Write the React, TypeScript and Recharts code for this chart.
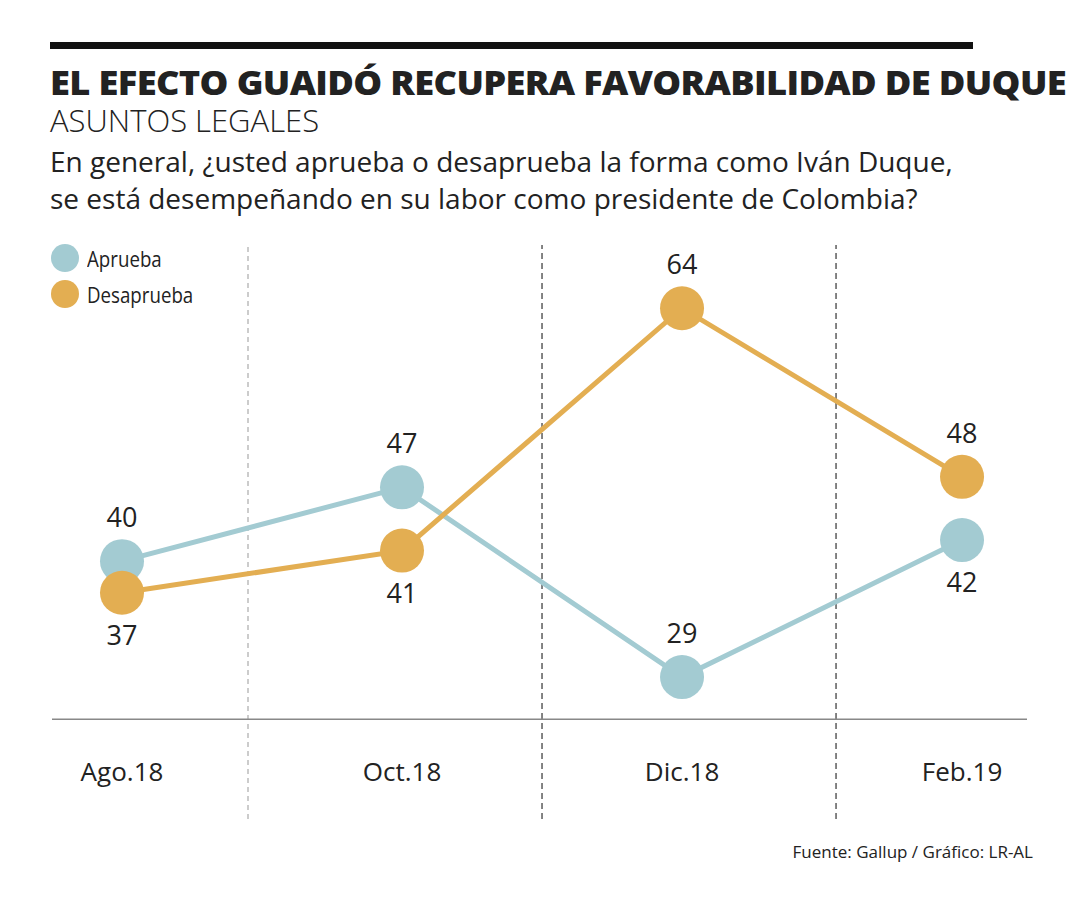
import { LineChart, Line, XAxis, YAxis, ReferenceLine, LabelList } from "recharts";

const months = ["Ago.18", "Oct.18", "Dic.18", "Feb.19"];
const aprueba = [40, 47, 29, 42];
const desaprueba = [37, 41, 64, 48];

const data = months.map((m, i) => ({ idx: i, month: m, aprueba: aprueba[i], desaprueba: desaprueba[i] }));

const TEAL = "#a3cbd2";
const ORANGE = "#e3ae52";
const FONT = "'Open Sans', sans-serif";

const dot = (color: string) => (props: any) => (
  <circle key={props.index} cx={props.cx} cy={props.cy} r={22} fill={color} />
);

const label = (pos: ("top" | "bottom")[]) => (props: any) => {
  const { x, y, value, index } = props;
  const up = pos[index] === "top";
  return (
    <text x={x} y={up ? y - 34 : y + 52} textAnchor="middle" fontSize={27} fill="#222" fontFamily={FONT}>
      {value}
    </text>
  );
};

const tick = (props: any) => (
  <text x={props.x} y={props.y - 46} textAnchor="middle" fontSize={26} fill="#222" fontFamily={FONT}>
    {months[props.payload.value]}
  </text>
);

export default function App() {
  return (
    <div style={{ position: "absolute", left: 0, top: 0, width: 1080, height: 900, background: "#fff", fontFamily: FONT, color: "#222" }}>
      <div style={{ position: "absolute", left: 50, top: 42, width: 923, height: 7, background: "#111" }} />
      <div style={{ position: "absolute", left: 50, top: 60, fontSize: 33, fontWeight: 800, letterSpacing: -0.6, whiteSpace: "nowrap", transform: "scaleX(1.1)", transformOrigin: "left" }}>
        EL EFECTO GUAIDÓ RECUPERA FAVORABILIDAD DE DUQUE
      </div>
      <div style={{ position: "absolute", left: 50, top: 99, fontSize: 31, fontWeight: 300, whiteSpace: "nowrap" }}>ASUNTOS LEGALES</div>
      <div style={{ position: "absolute", left: 50, top: 143, fontSize: 28, lineHeight: "37px", whiteSpace: "nowrap" }}>
        En general, ¿usted aprueba o desaprueba la forma como Iván Duque,<br />
        se está desempeñando en su labor como presidente de Colombia?
      </div>
      {[["Aprueba", TEAL, 257], ["Desaprueba", ORANGE, 293]].map(([t, c, y]) => (
        <div key={t as string} style={{ position: "absolute", left: 51, top: (y as number) - 14, display: "flex", alignItems: "center", whiteSpace: "nowrap" }}>
          <span style={{ width: 28, height: 28, borderRadius: 14, background: c as string, display: "inline-block" }} />
          <span style={{ marginLeft: 8, fontSize: 22, transform: "scaleX(0.85)", transformOrigin: "left", display: "inline-block" }}>{t}</span>
        </div>
      ))}
      <div style={{ position: "absolute", left: 52, top: 245 }}>
        <LineChart width={975} height={575} data={data} margin={{ top: 0, right: 0, bottom: 0, left: 0 }}>
          <XAxis dataKey="idx" type="number" domain={[-0.25, 3.232]} ticks={[0, 1, 2, 3]} axisLine={false} tickLine={false} tick={tick} height={1} />
          <YAxis type="number" domain={[15.53, 70]} hide />
          <ReferenceLine x={0.45} stroke="#999" strokeDasharray="5 4" strokeWidth={1} />
          <ReferenceLine x={1.5} stroke="#333" strokeDasharray="6 4" strokeWidth={1.2} segment={[{ x: 1.5, y: 68 }, { x: 1.5, y: 15.53 }]} />
          <ReferenceLine x={2.55} stroke="#333" strokeDasharray="6 4" strokeWidth={1.2} segment={[{ x: 2.55, y: 68 }, { x: 2.55, y: 15.53 }]} />
          <ReferenceLine y={25} stroke="#888" strokeWidth={1.5} />
          <Line dataKey="aprueba" stroke={TEAL} strokeWidth={5} dot={dot(TEAL)} activeDot={false} isAnimationActive={false}>
            <LabelList dataKey="aprueba" content={label(["top", "top", "top", "bottom"])} />
          </Line>
          <Line dataKey="desaprueba" stroke={ORANGE} strokeWidth={5} dot={dot(ORANGE)} activeDot={false} isAnimationActive={false}>
            <LabelList dataKey="desaprueba" content={label(["bottom", "bottom", "top", "top"])} />
          </Line>
        </LineChart>
      </div>
      <div style={{ position: "absolute", right: 47, top: 840, fontSize: 17, whiteSpace: "nowrap" }}>Fuente: Gallup / Gráfico: LR-AL</div>
    </div>
  );
}
